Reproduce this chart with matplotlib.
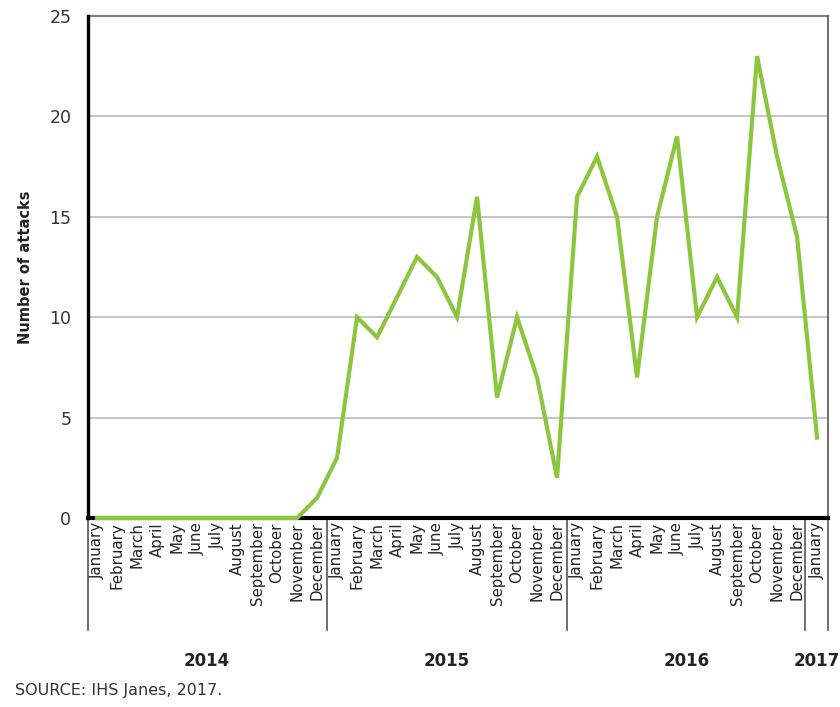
import matplotlib
matplotlib.use("Agg")
import matplotlib.pyplot as plt

# Monthly attack counts, January 2014 to January 2017.
months = ["January", "February", "March", "April", "May", "June", "July",
          "August", "September", "October", "November", "December"]
years = ["2014", "2015", "2016", "2017"]
attacks_2014 = [0, 0, 0, 0, 0, 0, 0, 0, 0, 0, 0, 1]
attacks_2015 = [3, 10, 9, 11, 13, 12, 10, 16, 6, 10, 7, 2]
attacks_2016 = [16, 18, 15, 7, 15, 19, 10, 12, 10, 23, 18, 14]
attacks_2017 = [4]

values = attacks_2014 + attacks_2015 + attacks_2016 + attacks_2017
labels = months * 3 + months[:1]
x = list(range(len(values)))

fig = plt.figure(figsize=(8.4, 7.07), dpi=100)
ax = fig.add_axes([0.1048, 0.2673, 0.881, 0.7101])

ax.plot(x, values, color="#8cc63f", linewidth=3.0, solid_joinstyle="miter",
        zorder=3, clip_on=False)

ax.set_xlim(-0.45, len(values) - 1 + 0.55)
ax.set_ylim(0, 25)
ax.set_yticks([0, 5, 10, 15, 20, 25])
ax.yaxis.grid(True, color="#c0c0c0", linewidth=1.3)
ax.set_axisbelow(True)

ax.set_xticks(x)
ax.set_xticklabels(labels, rotation=90, fontsize=10.8, color="#222222")
ax.tick_params(axis="x", length=0, pad=3)
ax.tick_params(axis="y", length=0, pad=12, labelsize=12.5, labelcolor="#333333")

for side in ["top", "right"]:
    ax.spines[side].set_visible(False)
ax.spines["left"].set_linewidth(2.4)
ax.spines["bottom"].set_linewidth(3.0)
ax.spines["left"].set_color("black")
ax.spines["bottom"].set_color("black")

# Top border line and right border extending below the axis.
ax.axhline(25, color="#808080", linewidth=1.6, zorder=2, clip_on=False)
trans = ax.get_xaxis_transform()
ax.plot([ax.get_xlim()[1]] * 2, [1.0, -0.223], transform=trans,
        color="#555555", linewidth=1.2, clip_on=False)

# Year separators under the month labels.
for sep in [ax.get_xlim()[0], 11.5, 23.5, 35.4]:
    ax.plot([sep, sep], [0, -0.223], transform=trans, color="#555555",
            linewidth=1.2, clip_on=False)

year_centres = [5.5, 17.5, 29.5, 36.0]
for xc, yr in zip(year_centres, years):
    ax.text(xc, -0.285, yr, transform=trans, ha="center", va="center",
            fontsize=12, fontweight="bold", color="#222222")

ax.set_ylabel("Number of attacks", fontsize=10.5, fontweight="bold",
              color="#222222", labelpad=12)

fig.text(0.018, 0.024, "SOURCE: IHS Janes, 2017.", fontsize=11.5,
         color="#333333", ha="left", va="center")

fig.savefig("out.png", dpi=100)
